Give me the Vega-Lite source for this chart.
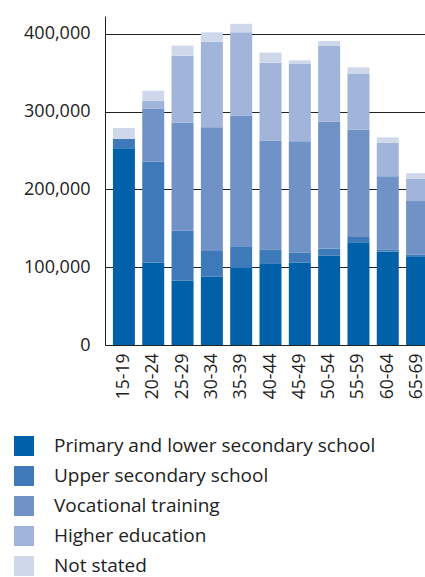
{
  "$schema": "https://vega.github.io/schema/vega-lite/v6.json",
  "width": 331,
  "height": 329,
  "autosize": {"type": "none"},
  "padding": {"left": 105, "top": 16, "right": 0, "bottom": 232},
  "background": "white",
  "config": {
    "view": {"stroke": null},
    "font": "Open Sans",
    "axis": {"labelColor": "#222222", "domainColor": "#222222", "ticks": false, "title": null}
  },
  "data": {
    "values": [
      {"age": "15-19", "level": "Primary and lower secondary school", "value": 253000},
      {"age": "15-19", "level": "Upper secondary school", "value": 12000},
      {"age": "15-19", "level": "Vocational training", "value": 0},
      {"age": "15-19", "level": "Higher education", "value": 0},
      {"age": "15-19", "level": "Not stated", "value": 14000},
      {"age": "20-24", "level": "Primary and lower secondary school", "value": 106000},
      {"age": "20-24", "level": "Upper secondary school", "value": 130000},
      {"age": "20-24", "level": "Vocational training", "value": 68000},
      {"age": "20-24", "level": "Higher education", "value": 10000},
      {"age": "20-24", "level": "Not stated", "value": 13000},
      {"age": "25-29", "level": "Primary and lower secondary school", "value": 83000},
      {"age": "25-29", "level": "Upper secondary school", "value": 64000},
      {"age": "25-29", "level": "Vocational training", "value": 139000},
      {"age": "25-29", "level": "Higher education", "value": 86000},
      {"age": "25-29", "level": "Not stated", "value": 13000},
      {"age": "30-34", "level": "Primary and lower secondary school", "value": 88000},
      {"age": "30-34", "level": "Upper secondary school", "value": 33000},
      {"age": "30-34", "level": "Vocational training", "value": 159000},
      {"age": "30-34", "level": "Higher education", "value": 110000},
      {"age": "30-34", "level": "Not stated", "value": 12000},
      {"age": "35-39", "level": "Primary and lower secondary school", "value": 99000},
      {"age": "35-39", "level": "Upper secondary school", "value": 28000},
      {"age": "35-39", "level": "Vocational training", "value": 168000},
      {"age": "35-39", "level": "Higher education", "value": 107000},
      {"age": "35-39", "level": "Not stated", "value": 11000},
      {"age": "40-44", "level": "Primary and lower secondary school", "value": 105000},
      {"age": "40-44", "level": "Upper secondary school", "value": 18000},
      {"age": "40-44", "level": "Vocational training", "value": 140000},
      {"age": "40-44", "level": "Higher education", "value": 100000},
      {"age": "40-44", "level": "Not stated", "value": 13000},
      {"age": "45-49", "level": "Primary and lower secondary school", "value": 106000},
      {"age": "45-49", "level": "Upper secondary school", "value": 13000},
      {"age": "45-49", "level": "Vocational training", "value": 143000},
      {"age": "45-49", "level": "Higher education", "value": 100000},
      {"age": "45-49", "level": "Not stated", "value": 4000},
      {"age": "50-54", "level": "Primary and lower secondary school", "value": 115000},
      {"age": "50-54", "level": "Upper secondary school", "value": 9000},
      {"age": "50-54", "level": "Vocational training", "value": 163000},
      {"age": "50-54", "level": "Higher education", "value": 98000},
      {"age": "50-54", "level": "Not stated", "value": 6000},
      {"age": "55-59", "level": "Primary and lower secondary school", "value": 132000},
      {"age": "55-59", "level": "Upper secondary school", "value": 7000},
      {"age": "55-59", "level": "Vocational training", "value": 138000},
      {"age": "55-59", "level": "Higher education", "value": 72000},
      {"age": "55-59", "level": "Not stated", "value": 8000},
      {"age": "60-64", "level": "Primary and lower secondary school", "value": 120000},
      {"age": "60-64", "level": "Upper secondary school", "value": 3000},
      {"age": "60-64", "level": "Vocational training", "value": 94000},
      {"age": "60-64", "level": "Higher education", "value": 43000},
      {"age": "60-64", "level": "Not stated", "value": 7000},
      {"age": "65-69", "level": "Primary and lower secondary school", "value": 114000},
      {"age": "65-69", "level": "Upper secondary school", "value": 2000},
      {"age": "65-69", "level": "Vocational training", "value": 69000},
      {"age": "65-69", "level": "Higher education", "value": 29000},
      {"age": "65-69", "level": "Not stated", "value": 7000}
    ]
  },
  "transform": [
    {"calculate": "indexof(['Primary and lower secondary school','Upper secondary school','Vocational training','Higher education','Not stated'], datum.level)", "as": "k"}
  ],
  "mark": {"type": "bar"},
  "encoding": {
    "x": {
      "field": "age", "type": "nominal", "sort": null,
      "scale": {"paddingInner": 0.25, "paddingOuter": 0.27},
      "axis": {"labelAngle": -90, "labelPadding": 8, "labelFontSize": 17.5, "domainWidth": 1}
    },
    "y": {
      "field": "value", "type": "quantitative", "stack": "zero",
      "scale": {"domain": [0, 423000], "nice": false},
      "axis": {"values": [0, 100000, 200000, 300000, 400000], "format": ",.0f", "grid": true, "gridColor": "#222222", "gridWidth": 1, "labelPadding": 15, "labelFontSize": 18}
    },
    "color": {
      "field": "level", "type": "nominal",
      "scale": {
        "domain": ["Primary and lower secondary school", "Upper secondary school", "Vocational training", "Higher education", "Not stated"],
        "range": ["#0060A8", "#3E79B9", "#7192C7", "#A1B4DA", "#CFD8EB"]
      },
      "legend": {
        "title": null, "orient": "none", "legendX": -91, "legendY": 420,
        "symbolType": "square", "symbolSize": 400, "symbolStrokeWidth": 0, "symbolOpacity": 1,
        "labelFontSize": 19, "labelColor": "#222222", "labelOffset": 20, "rowPadding": 10, "labelLimit": 400
      }
    },
    "order": {"field": "k", "type": "quantitative", "sort": "ascending"}
  }
}
